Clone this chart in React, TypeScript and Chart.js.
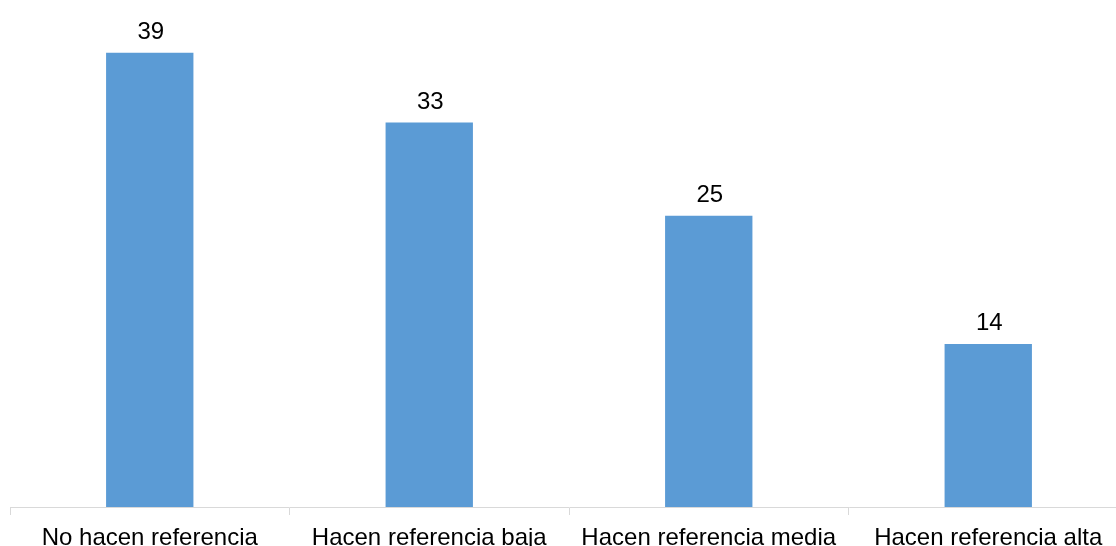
import React, { useEffect, useRef } from "react";
import { Chart, registerables } from "chart.js";

Chart.register(...registerables);

const categories = [
  "No hacen referencia",
  "Hacen referencia baja",
  "Hacen referencia media",
  "Hacen referencia alta",
];
const values = [39, 33, 25, 14];

const FONT = "'Liberation Sans', Arial, sans-serif";

const valueLabels = {
  id: "valueLabels",
  afterDatasetsDraw(chart: any) {
    const ctx = chart.ctx;
    const meta = chart.getDatasetMeta(0);
    ctx.save();
    ctx.fillStyle = "#000000";
    ctx.font = `24px ${FONT}`;
    ctx.textAlign = "center";
    ctx.textBaseline = "alphabetic";
    meta.data.forEach((el: any, i: number) => {
      ctx.fillText(String(values[i]), el.x + 1, el.y - 14);
    });
    ctx.restore();
  },
};

export default function App() {
  const ref = useRef<HTMLCanvasElement | null>(null);
  useEffect(() => {
    document.body.style.margin = "0";
    document.body.style.overflow = "hidden";
    const chart = new Chart(ref.current as HTMLCanvasElement, {
      type: "bar",
      data: {
        labels: categories,
        datasets: [
          {
            data: values,
            backgroundColor: "#5B9BD5",
            barPercentage: 0.3125,
            categoryPercentage: 1,
          },
        ],
      },
      options: {
        animation: false,
        responsive: false,
        maintainAspectRatio: false,
        layout: { padding: { left: 10, right: 0, top: 41, bottom: 0 } },
        plugins: { legend: { display: false }, tooltip: { enabled: false } },
        scales: {
          y: { display: false, min: 0, max: 40 },
          x: {
            offset: true,
            border: { display: true, color: "#D9D9D9", width: 1 },
            grid: {
              display: true,
              offset: true,
              drawOnChartArea: false,
              drawTicks: true,
              tickLength: 8,
              color: "#D9D9D9",
            },
            ticks: {
              color: "#000000",
              font: { family: FONT, size: 24 },
              padding: 9,
              maxRotation: 0,
              autoSkip: false,
            },
            afterFit(scale: any) {
              scale.height = 39;
            },
          },
        },
      },
      plugins: [valueLabels],
    });
    return () => chart.destroy();
  }, []);
  return (
    <div style={{ position: "absolute", left: 0, top: 0, width: 1116, height: 546, overflow: "hidden" }}>
      <canvas ref={ref} width={1128} height={546} style={{ width: 1128, height: 546, display: "block" }} />
    </div>
  );
}
